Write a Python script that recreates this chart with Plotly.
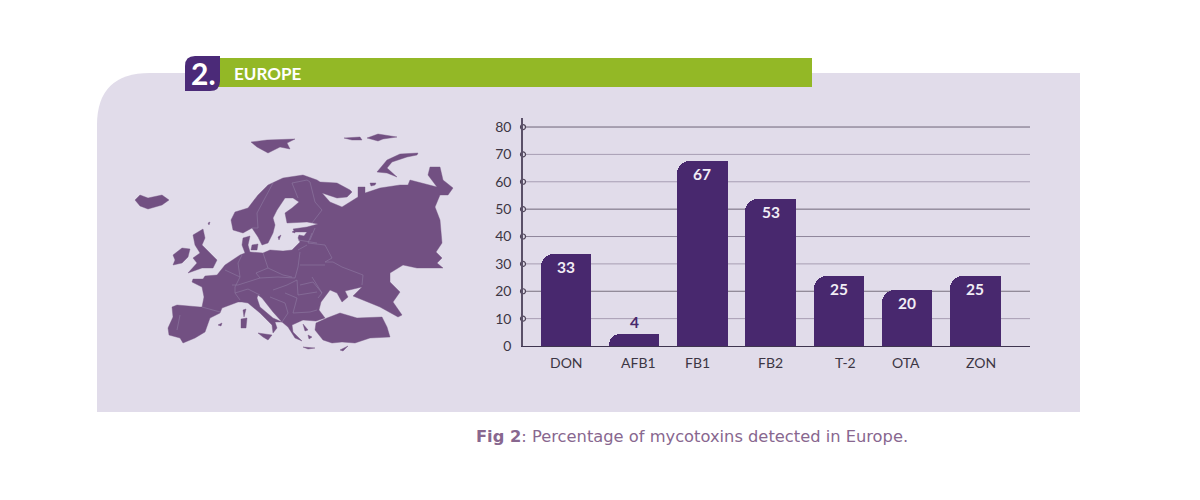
import plotly.graph_objects as go

categories = ["DON", "AFB1", "FB1", "FB2", "T-2", "OTA", "ZON"]
values = [33, 4, 67, 53, 25, 20, 25]
bar_heights = [33.5, 4.3, 67.7, 53.6, 25.5, 20.6, 25.5]
y_ticks = [0, 10, 20, 30, 40, 50, 60, 70, 80]
grid_colors = [None, "#a79db3", "#78707f", "#a79db3", "#8f869b", "#6f6579", "#a79db3", "#a79db3", "#6f6579"]
label_nudges = [1, 4, -5, 0, 7, -1, 6]
header = "EUROPE"
badge = "2."
caption = "<b>Fig 2</b>: Percentage of mycotoxins detected in Europe."

# Map outline, traced on the 1200x500 sheet
mainland = [(172,307),(177,305),(200,307),(202,307),(204,297),(202,287),(192,282),(193,279),(203,279),(205,276),(217,275),(225,265),(240,255),(245,253),(242,245),(243,238),(250,236),(248,245),(250,252),(263,253),(270,250),(283,251),(292,250),(300,242),(298,238),(299,235),(304,236),(307,232),(295,232),(293,229),(307,227),(318,224),(307,222),(293,223),(287,223),(285,213),(292,208),(299,202),(293,198),(285,198),(277,210),(273,218),(275,225),(273,233),(268,243),(262,245),(258,237),(252,228),(243,233),(233,230),(231,220),(235,212),(248,208),(258,195),(268,185),(283,178),(303,175),(317,180),(320,182),(337,183),(350,190),(352,192),(347,197),(337,198),(322,193),(330,202),(342,207),(350,202),(358,197),(358,187),(365,187),(365,193),(380,188),(400,185),(408,185),(410,180),(417,182),(437,187),(428,175),(430,167),(440,167),(443,180),(453,188),(448,195),(440,195),(435,207),(440,220),(442,243),(436,252),(442,258),(437,263),(443,268),(417,268),(403,265),(390,273),(390,282),(400,292),(393,302),(402,315),(398,317),(380,307),(357,298),(353,296),(362,287),(345,291),(348,297),(342,302),(337,293),(330,290),(321,302),(319,310),(325,318),(316,321),(303,320),(292,325),(293,332),(302,341),(295,338),(288,327),(282,322),(273,312),(262,298),(258,295),(257,298),(260,307),(273,318),(282,322),(275,322),(277,328),(273,333),(272,325),(260,313),(248,303),(242,302),(238,302),(230,305),(222,308),(220,313),(210,318),(205,332),(195,338),(183,343),(180,338),(169,335),(168,328),(173,317)]
turkey = [(316,323),(327,318),(340,313),(357,318),(382,317),(387,327),(390,337),(370,338),(355,343),(342,342),(332,343),(323,340),(315,330)]
britain = [(193,235),(203,229),(205,238),(202,245),(210,253),(217,260),(213,268),(202,268),(188,273),(197,263),(193,258),(200,253),(195,245)]
ireland = [(173,255),(182,248),(190,249),(188,257),(182,263),(173,265),(175,260)]
iceland = [(135,200),(140,195),(148,198),(162,195),(169,200),(162,205),(148,209),(140,206)]
svalbard = [(251,142),(267,140),(295,139),(287,143),(290,149),(280,147),(268,153),(257,147)]
novaya_zemlya = [(418,153),(400,154),(387,160),(377,172),(387,173),(397,177),(387,168),(392,162),(407,157),(417,155)]
franz_josef_w = [(344,138),(360,137),(362,140),(352,140)]
franz_josef_e = [(367,138),(378,134),(397,137),(383,139),(378,141)]
kolguev = [(370,183),(376,183),(375,185),(371,186)]
cyprus = [(340,350),(348,346),(343,351)]
crete = [(303,347),(315,348),(308,349)]
sardinia = [(241,319),(247,318),(246,328),(241,328)]
corsica = [(243,310),(246,309),(244,317)]
sicily = [(258,333),(272,335),(268,340),(263,337)]
balearic = [(218,325),(222,323),(221,326)]
zealand = [(252,245),(258,244),(257,250),(251,250)]
gotland = [(278,237),(281,235),(279,240)]
saaremaa = [(292,232),(295,230),(295,233)]
shetland = [(208,223),(210,222),(209,225)]
euboea = [(303,324),(308,330),(305,331)]
cyclades = [(308,335),(312,337),(309,339)]
islands = [turkey, britain, ireland, iceland, svalbard, novaya_zemlya, franz_josef_w, franz_josef_e, kolguev,
           cyprus, crete, sardinia, corsica, sicily, balearic, zealand, gotland, saaremaa, shetland, euboea, cyclades]
borders = [
    [(273,183),(257,213),(258,228),(252,228)],
    [(292,183),(298,198)],
    [(310,182),(315,202),(322,210),(312,223)],
    [(292,183),(307,180),(310,182)],
    [(315,228),(310,240)],
    [(298,240),(310,242),(317,243)],
    [(298,250),(307,245)],
    [(312,233),(308,243),(325,245),(332,258),(325,262),(333,262),(342,267),(363,275),(362,285)],
    [(300,252),(298,267),(295,278)],
    [(300,265),(325,265)],
    [(242,255),(238,263),(240,277),(235,287),(235,293),(240,300)],
    [(263,253),(268,268),(256,273),(260,278),(238,285),(232,285)],
    [(225,270),(240,277)],
    [(235,293),(248,289),(260,295)],
    [(260,278),(278,277),(295,278)],
    [(268,268),(283,275),(292,277)],
    [(273,290),(287,285),(297,280)],
    [(297,280),(298,295),(317,292)],
    [(312,277),(322,293)],
    [(300,285),(313,282),(322,293),(318,298)],
    [(293,313),(310,312),(317,310)],
    [(270,297),(285,303),(288,313),(282,322)],
    [(285,293),(297,298),(293,313)],
    [(180,315),(177,330)],
    [(202,307),(220,312)],
]

MAP_FILL = "#725082"
BAR = "#48286e"
fig = go.Figure()

# Sheet subplot (drawn first, holds the panel, header and map)
for poly in [mainland] + islands:
    fig.add_trace(go.Scatter(x=[p[0] for p in poly] + [poly[0][0]], y=[p[1] for p in poly] + [poly[0][1]],
                             mode="lines", fill="toself", fillcolor=MAP_FILL,
                             line=dict(color=MAP_FILL, width=0.4),
                             hoverinfo="skip", showlegend=False))
for b in borders:
    fig.add_trace(go.Scatter(x=[p[0] for p in b], y=[p[1] for p in b], mode="lines",
                             line=dict(color="#8f7aa3", width=0.6), hoverinfo="skip", showlegend=False))

bar_x = list(range(len(categories)))
# Bars: rounded on both top corners, then squared off on the right half
fig.add_trace(go.Bar(x=bar_x, y=bar_heights, xaxis="x2", yaxis="y2", width=0.74,
                     marker=dict(color=BAR, cornerradius=13, line_width=0),
                     hoverinfo="skip", showlegend=False))
fig.add_trace(go.Bar(x=bar_x, y=bar_heights, xaxis="x2", yaxis="y2", width=0.37, offset=0,
                     marker=dict(color=BAR, line_width=0), hoverinfo="skip", showlegend=False))

# Tick circles on the axis
fig.add_trace(go.Scatter(x=[-0.63] * (len(y_ticks) - 1), y=y_ticks[1:], xaxis="x2", yaxis="y2", mode="markers",
                         cliponaxis=False, marker=dict(size=5, color="#e1dcea", line=dict(color="#4e4458", width=1.2)),
                         hoverinfo="skip", showlegend=False))

shapes = [
    dict(type="path", xref="x", yref="y", layer="below", line_width=0, fillcolor="#e1dcea",
         path="M97,412 L97,125 Q97,73 150,73 L1080,73 L1080,412 Z"),
    dict(type="rect", xref="x", yref="y", layer="below", line_width=0, fillcolor="#93b826",
         x0=215, x1=812, y0=58, y1=87),
    dict(type="path", xref="x", yref="y", layer="below", line_width=0, fillcolor="#4b2a78",
         path="M185,91 L185,66 Q185,56 195,56 L220,56 L220,81 Q220,91 210,91 Z"),
]
for t, c in zip(y_ticks, grid_colors):
    if c:
        shapes.append(dict(type="line", xref="x2", yref="y2", layer="below", x0=-0.63, x1=6.80, y0=t, y1=t,
                           line=dict(color=c, width=1)))

annotations = []
for x, c, v, h, n in zip(bar_x, categories, values, bar_heights, label_nudges):
    annotations.append(dict(x=x, y=0, xref="x2", yref="y2", text=c, showarrow=False, yshift=-16, xshift=n,
                            font=dict(family="Lato", size=14, color="#3c3644")))
    small = v < 10
    annotations.append(dict(x=x, y=h, xref="x2", yref="y2", text=f"<b>{v}</b>", showarrow=False,
                            yshift=12 if small else -13,
                            font=dict(family="Lato", size=15.5, color=BAR if small else "#f1edf5")))
annotations += [
    dict(x=232, y=73, xref="x", yref="y", text=f"<b>{header}</b>", showarrow=False, xanchor="left",
         font=dict(family="Lato", size=17, color="white")),
    dict(x=203, y=73, xref="x", yref="y", text=f"<b>{badge}</b>", showarrow=False,
         font=dict(family="Lato", size=30, color="white")),
    dict(x=474, y=436, xref="x", yref="y", text=caption, showarrow=False, xanchor="left",
         font=dict(family="DejaVu Sans", size=16.3, color="#88678f")),
]

fig.update_layout(
    width=1200, height=508, margin=dict(l=0, r=0, t=0, b=0), autosize=False,
    paper_bgcolor="white", plot_bgcolor="rgba(0,0,0,0)", barmode="overlay", bargap=0,
    shapes=shapes, annotations=annotations,
    xaxis=dict(domain=[0, 1], range=[0, 1200], visible=False, anchor="y"),
    yaxis=dict(domain=[0, 1], range=[500, 0], visible=False, anchor="x"),
    xaxis2=dict(domain=[523/1200, 1030/1200], range=[-0.63, 6.80], showgrid=False, showticklabels=False,
                ticks="", showline=True, linecolor="#3f3550", linewidth=1.2, zeroline=False, anchor="y2"),
    yaxis2=dict(domain=[1 - 346/500, 1 - 118/500], range=[0, 83.3], tickvals=y_ticks, showgrid=False,
                ticks="", showline=True, linecolor="#5a5068", linewidth=1.5, zeroline=False, anchor="x2",
                ticklabelstandoff=7, tickfont=dict(family="Lato", size=14, color="#3c3644")),
)

fig.write_html("out.html", config=dict(displayModeBar=False),
               post_script="document.body.style.margin='0';document.documentElement.style.overflow='hidden';"
                           "var g=document.getElementById('{plot_id}');g.style.position='fixed';g.style.left='0';g.style.top='0';")
